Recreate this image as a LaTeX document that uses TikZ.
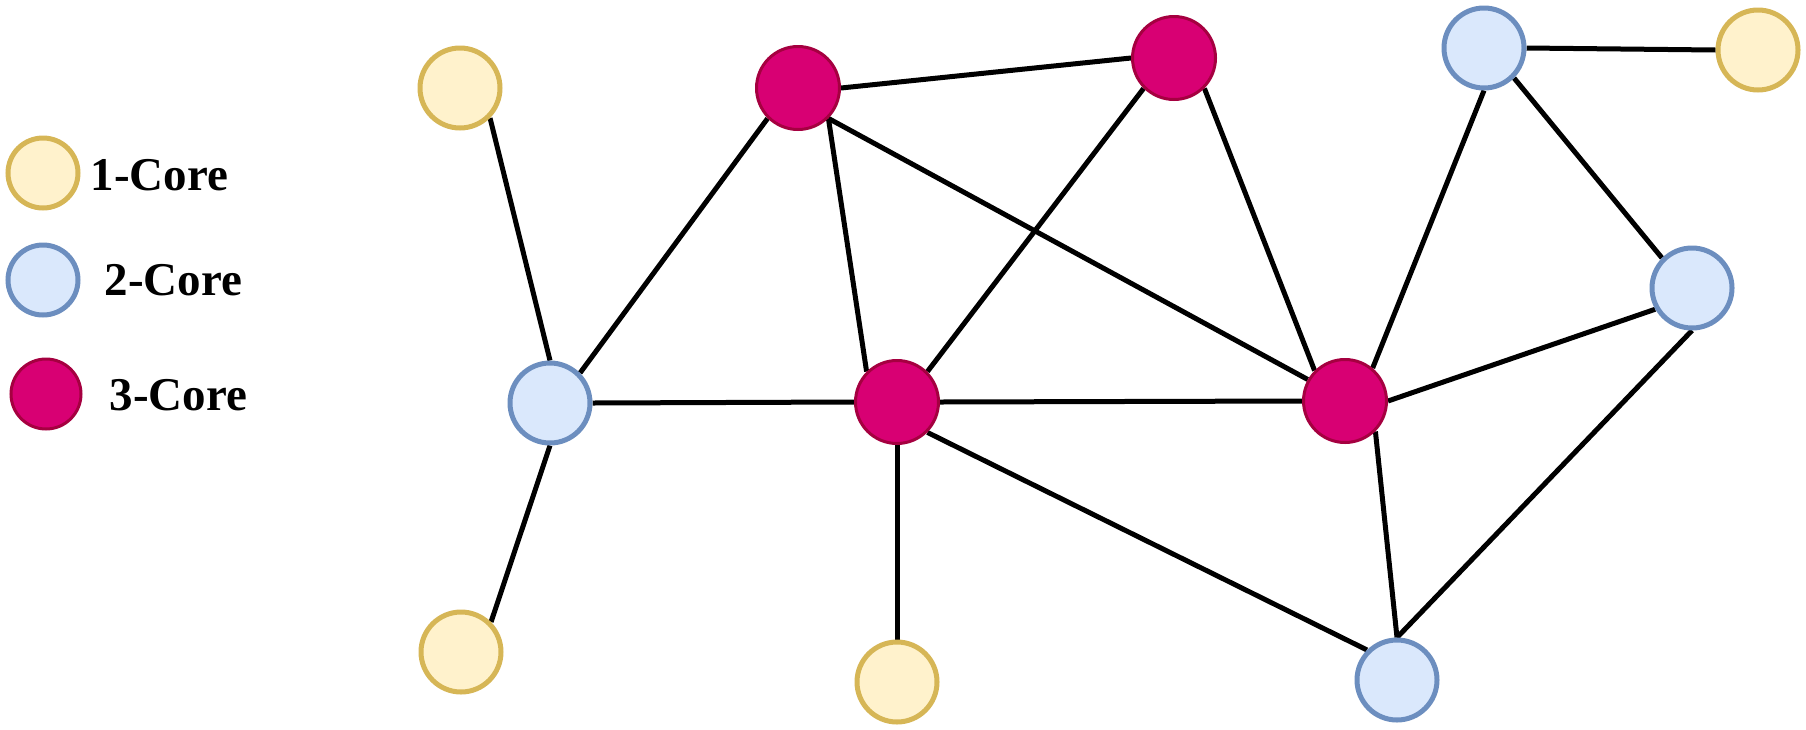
\documentclass[tikz,border=0pt]{standalone}
\usepackage{fontspec}
\setmainfont{Liberation Serif}
\usetikzlibrary{backgrounds}
\definecolor{yfill}{HTML}{FFF2CC}
\definecolor{ydraw}{HTML}{D6B656}
\definecolor{bfill}{HTML}{DAE8FC}
\definecolor{bdraw}{HTML}{6C8EBF}
\definecolor{mfill}{HTML}{D80073}
\definecolor{mdraw}{HTML}{A50040}
\begin{document}
\begin{tikzpicture}[
  x=1pt,y=-1pt,
  core/.style={circle,minimum size=80pt,inner sep=0pt,line width=5pt},
  one/.style={core,draw=ydraw,fill=yfill},
  two/.style={core,draw=bdraw,fill=bfill},
  three/.style={core,draw=mdraw,fill=mfill,line width=3pt,minimum size=83pt},
  small/.style={minimum size=70pt},
  lbl/.style={anchor=west,font=\fontsize{47}{47}\selectfont\bfseries},
  edge/.style={line width=5pt},
]
\useasboundingbox (0,0) rectangle (1806,729);

% legend
\node[one,small] (k1) at (43,173) {};
\node[two,small] (k2) at (43,280) {};
\node[three,small] (k3) at (46,394) {};
\node[lbl] (t1) at (87,175) {1-Core};
\node[lbl] (t2) at (101,280) {2-Core};
\node[lbl] (t3) at (106,395) {3-Core};

% graph
\node[one] (ya) at (460,88) {};
\node[one] (yb) at (1758,50) {};
\node[one] (yc) at (461,652) {};
\node[one] (yd) at (897,682) {};
\node[two] (ba) at (1484,48) {};
\node[two] (bb) at (1692,288) {};
\node[two] (bc) at (550,403) {};
\node[two] (bd) at (1397,680) {};
\node[three] (ma) at (798,88) {};
\node[three] (mb) at (1174,58) {};
\node[three] (mc) at (897,402) {};
\node[three] (md) at (1345,401) {};

\begin{scope}[on background layer]
\draw[edge] (ya.-45) -- (bc.north);
\draw[edge] (bc.45) -- (ma.225);
\draw[edge] (bc.east) -- (mc.west);
\draw[edge] (bc.south) -- (yc.45);
\draw[edge] (ma.east) -- (mb.west);
\draw[edge] (ma.-45) -- (mc.135);
\draw[edge] (ma.-45) -- (md.150);
\draw[edge] (mb.225) -- (mc.45);
\draw[edge] (mb.-45) -- (md.135);
\draw[edge] (mc.east) -- (md.west);
\draw[edge] (mc.south) -- (yd.north);
\draw[edge] (mc.-45) -- (bd.135);
\draw[edge] (md.50) -- (ba.south);
\draw[edge] (md.east) -- (bb.210);
\draw[edge] (md.-45) -- (bd.north);
\draw[edge] (ba.east) -- (yb.west);
\draw[edge] (ba.-45) -- (bb.135);
\draw[edge] (bb.south) -- (bd.north);
\end{scope}

\end{tikzpicture}
\end{document}
